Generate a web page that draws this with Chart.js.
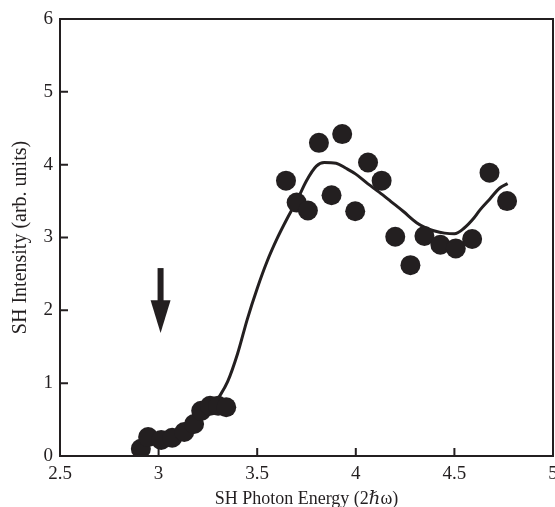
<!DOCTYPE html>
<html>
<head>
<meta charset="utf-8">
<script src="https://cdn.jsdelivr.net/npm/chart.js@4/dist/chart.umd.min.js"></script>
<style>
  html, body { margin: 0; padding: 0; background: #fff; overflow: hidden; }
  #wrap { width: 555px; height: 507px; overflow: hidden; }
</style>
</head>
<body>
<div id="wrap"><canvas id="chart" width="563" height="507"></canvas></div>
<script>
// measured SH intensity (dots)
const dataX = [2.91, 2.947, 3.013, 3.069, 3.13, 3.18, 3.216, 3.261, 3.302, 3.343,
    3.646, 3.70, 3.757, 3.813, 3.877, 3.931, 3.997, 4.062, 4.131, 4.20,
    4.277, 4.348, 4.429, 4.507, 4.59, 4.678, 4.767];
const dataY = [0.10, 0.26, 0.22, 0.25, 0.33, 0.44, 0.62, 0.69, 0.69, 0.67,
    3.78, 3.48, 3.37, 4.30, 3.58, 4.42, 3.36, 4.03, 3.78, 3.01,
    2.62, 3.02, 2.90, 2.85, 2.98, 3.89, 3.50];

// calculated curve
const fitX = [3.27, 3.30, 3.35, 3.40, 3.45, 3.50, 3.55, 3.60, 3.65, 3.70, 3.75, 3.80, 3.84,
    3.90, 3.95, 4.00, 4.06, 4.12, 4.18, 4.24, 4.31, 4.35, 4.40, 4.45, 4.50,
    4.55, 4.60, 4.63, 4.68, 4.73, 4.77];
const fitY = [0.65, 0.78, 1.02, 1.40, 1.88, 2.30, 2.67, 2.98, 3.25, 3.50, 3.78, 3.98, 4.03,
    4.02, 3.95, 3.87, 3.74, 3.62, 3.49, 3.36, 3.20, 3.14, 3.09, 3.06, 3.05,
    3.13, 3.27, 3.38, 3.53, 3.68, 3.74];

const xTicks = [2.5, 3, 3.5, 4, 4.5, 5];
const yTicks = [0, 1, 2, 3, 4, 5, 6];

// arrow marking the band edge
const arrowX = 3.01;
const arrowTop = 2.58;
const arrowHeadBase = 2.14;
const arrowTip = 1.69;

const ink = '#231f20';
const serif = '"Liberation Serif", "DejaVu Serif", serif';

const frame = {
    id: 'frame',
    afterDatasetsDraw(chart) {
        const { ctx, chartArea: a, scales } = chart;
        ctx.save();
        ctx.strokeStyle = ink;
        ctx.lineWidth = 2;
        ctx.strokeRect(a.left, a.top, a.right - a.left, a.bottom - a.top);
        ctx.beginPath();
        xTicks.forEach(v => {
            const px = scales.x.getPixelForValue(v);
            ctx.moveTo(px, a.bottom);
            ctx.lineTo(px, a.bottom - 8);
        });
        yTicks.forEach(v => {
            const py = scales.y.getPixelForValue(v);
            ctx.moveTo(a.left, py);
            ctx.lineTo(a.left + 8, py);
        });
        ctx.stroke();

        // arrow
        const ax = scales.x.getPixelForValue(arrowX);
        const top = scales.y.getPixelForValue(arrowTop);
        const base = scales.y.getPixelForValue(arrowHeadBase);
        const tip = scales.y.getPixelForValue(arrowTip);
        ctx.fillStyle = ink;
        ctx.fillRect(ax - 3, top, 6, base - top + 1);
        ctx.beginPath();
        ctx.moveTo(ax - 10, base);
        ctx.lineTo(ax + 10, base);
        ctx.lineTo(ax, tip);
        ctx.closePath();
        ctx.fill();
        ctx.restore();
    }
};

new Chart(document.getElementById('chart'), {
    type: 'scatter',
    data: {
        datasets: [
            {
                label: 'fit',
                data: fitX.map((x, i) => ({ x, y: fitY[i] })),
                showLine: true,
                borderColor: ink,
                borderWidth: 3,
                pointRadius: 0,
                cubicInterpolationMode: 'monotone',
                order: 2
            },
            {
                label: 'data',
                data: dataX.map((x, i) => ({ x, y: dataY[i] })),
                backgroundColor: ink,
                borderColor: ink,
                borderWidth: 0,
                pointRadius: 10,
                order: 1
            }
        ]
    },
    options: {
        responsive: false,
        animation: false,
        layout: { padding: { top: 19, right: 0, left: 0, bottom: 0 } },
        plugins: { legend: { display: false }, tooltip: { enabled: false } },
        scales: {
            x: {
                min: 2.5, max: 5,
                grid: { display: false, drawTicks: false },
                border: { display: false },
                ticks: {
                    stepSize: 0.5, color: ink, padding: 7,
                    font: { family: serif, size: 19 },
                    callback: v => String(v)
                },
                title: {
                    display: true, text: 'SH Photon Energy (2ℏω)', color: ink,
                    font: { family: serif, size: 18 }, padding: { top: 0, bottom: -3 }
                },
                afterFit(s) { s.height = 51; s.paddingLeft = 0; s.paddingRight = 0; }
            },
            y: {
                min: 0, max: 6,
                grid: { display: false, drawTicks: false },
                border: { display: false },
                ticks: {
                    stepSize: 1, color: ink, padding: 7,
                    font: { family: serif, size: 19 }
                },
                title: {
                    display: true, text: 'SH Intensity (arb. units)', color: ink,
                    font: { family: serif, size: 20 }, padding: { top: 9, bottom: 0 }
                },
                afterFit(s) { s.width = 60; s.paddingTop = 0; s.paddingBottom = 0; }
            }
        }
    },
    plugins: [frame]
});
</script>
</body>
</html>
